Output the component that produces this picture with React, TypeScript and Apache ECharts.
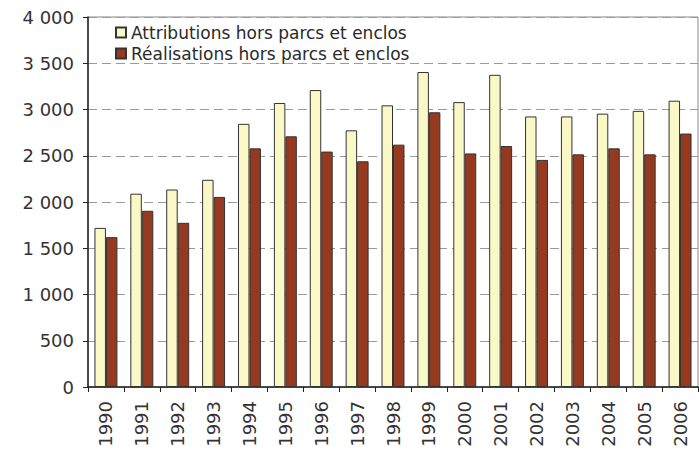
import React, { useEffect, useRef } from "react";
import * as echarts from "echarts";

const years = ["1990","1991","1992","1993","1994","1995","1996","1997","1998","1999","2000","2001","2002","2003","2004","2005","2006"];
const attributions = [1720,2090,2135,2240,2845,3070,3210,2775,3045,3405,3080,3375,2925,2925,2955,2985,3095];
const realisations = [1620,1905,1775,2055,2580,2710,2545,2440,2620,2970,2525,2605,2455,2515,2580,2515,2740];
const seriesNames = ["Attributions hors parcs et enclos", "Réalisations hors parcs et enclos"];

const fmt = (v: number) => v >= 1000 ? `${Math.floor(v / 1000)} ${String(v % 1000).padStart(3, "0")}` : String(v);

export default function App() {
  const ref = useRef<HTMLDivElement>(null);
  useEffect(() => {
    if (!ref.current) return;
    const chart = echarts.init(ref.current, undefined, { renderer: "svg" });
    const font = "DejaVu Sans";
    chart.setOption({
      animation: false,
      backgroundColor: "#ffffff",
      textStyle: { fontFamily: font },
      grid: { left: 88, right: 1, top: 17, bottom: 67, show: true, borderColor: "#8a8a8a", borderWidth: 1 },
      legend: {
        orient: "vertical",
        left: 110,
        top: 19,
        itemWidth: 10,
        itemHeight: 10,
        itemGap: 4,
        icon: "rect",
        textStyle: { fontSize: 17, color: "#2a2a2a", fontFamily: font },
        data: seriesNames,
      },
      xAxis: {
        type: "category",
        data: years,
        axisLine: { lineStyle: { color: "#222", width: 1.5 } },
        axisTick: { show: true, length: 5, lineStyle: { color: "#222" } },
        axisLabel: { rotate: 90, fontSize: 18, color: "#333", margin: 14, interval: 0, fontFamily: font },
      },
      yAxis: {
        type: "value",
        min: 0,
        max: 4000,
        interval: 500,
        axisLine: { show: true, lineStyle: { color: "#222", width: 1.5 } },
        axisTick: { show: true, length: 5, lineStyle: { color: "#222" } },
        axisLabel: { fontSize: 18, color: "#333", margin: 14, formatter: fmt, fontFamily: font },
        splitLine: { show: true, lineStyle: { color: "#9a9a9a", type: [9, 5], width: 1 } },
      },
      series: [
        {
          name: seriesNames[0],
          type: "bar",
          data: attributions,
          barGap: "0%",
          barCategoryGap: "36%",
          itemStyle: { color: "#fbf8c8", borderColor: "#333", borderWidth: 1 },
        },
        {
          name: seriesNames[1],
          type: "bar",
          data: realisations,
          barGap: "0%",
          barCategoryGap: "36%",
          itemStyle: { color: "#953a20", borderColor: "#333", borderWidth: 1 },
        },
      ],
    });
    return () => chart.dispose();
  }, []);
  return <div ref={ref} style={{ position: "fixed", left: 0, top: 0, width: 699, height: 454 }} />;
}
